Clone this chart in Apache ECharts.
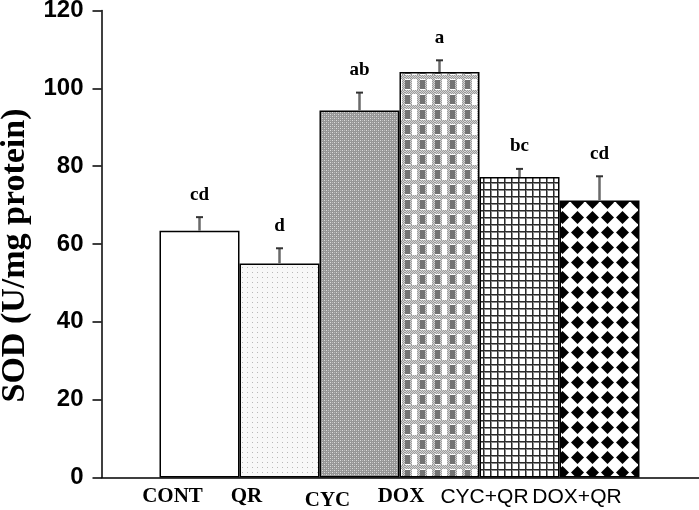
<!DOCTYPE html>
<html>
<head>
<meta charset="utf-8">
<script src="https://cdn.jsdelivr.net/npm/echarts@6/dist/echarts.min.js"></script>
<style>
html,body{margin:0;padding:0;background:#fff;}
#chart{width:699px;height:510px;}
</style>
</head>
<body>
<div id="chart"></div>
<script>
// ---- data ----
const categories = ['CONT', 'QR', 'CYC', 'DOX', 'CYC+QR', 'DOX+QR'];
const sodMeans = [63.4, 55.0, 94.3, 104.2, 77.2, 71.2];
const sodErrors = [3.5, 3.9, 4.6, 3.0, 2.1, 6.2];
const sigLetters = ['cd', 'd', 'ab', 'a', 'bc', 'cd'];
const yMin = 0, yMax = 120, yStep = 20;
const yTitle = 'SOD (U/mg protein)';

// ---- patterns ----
function tile(w, h, draw) {
  const c = document.createElement('canvas');
  c.width = w; c.height = h;
  const g = c.getContext('2d');
  draw(g);
  return { image: c, repeat: 'repeat' };
}
const patWhite = '#ffffff';
const patDots = tile(5, 5, g => {
  g.fillStyle = '#f8f8f8'; g.fillRect(0, 0, 5, 5);
  g.fillStyle = '#b8b8b8'; g.fillRect(2, 2, 1, 1);
});
const patFine = tile(4, 4, g => {
  g.fillStyle = '#969696'; g.fillRect(0, 0, 4, 4);
  g.fillStyle = '#dcdcdc'; g.fillRect(0, 0, 1, 1); g.fillRect(2, 2, 1, 1);
  g.fillStyle = '#b8b8b8'; g.fillRect(2, 0, 1, 1); g.fillRect(0, 2, 1, 1);
});
const patPlaid = tile(15, 15, g => {
  g.fillStyle = '#ffffff'; g.fillRect(0, 0, 15, 15);
  for (let y = 0; y < 15; y++) for (let x = 0; x < 15; x++) {
    const inBand = y < 4;
    const inCol = (x >= 5 && x <= 6) || (x >= 12 && x <= 14);
    if (inBand || inCol) {
      g.fillStyle = ((x + y) % 2 === 0) ? '#9a9a9a' : '#d4d4d4';
      g.fillRect(x, y, 1, 1);
    }
  }
  g.fillStyle = '#737373'; g.fillRect(0, 5, 5, 9);
});
const patGrid = tile(7, 7, g => {
  g.fillStyle = '#ffffff'; g.fillRect(0, 0, 7, 7);
  g.fillStyle = '#8a8a8a'; g.fillRect(1, 0, 1, 7); g.fillRect(0, 1, 7, 1);
  g.fillStyle = '#2a2a2a'; g.fillRect(0, 0, 1, 7); g.fillRect(0, 0, 7, 1);
});
const patDiamond = tile(15, 15, g => {
  g.fillStyle = '#ffffff'; g.fillRect(0, 0, 15, 15);
  g.fillStyle = '#000000';
  g.beginPath();
  g.moveTo(7.5, 1); g.lineTo(14, 7.5); g.lineTo(7.5, 14); g.lineTo(1, 7.5);
  g.closePath(); g.fill();
});
const barFills = [patWhite, patDots, patFine, patPlaid, patGrid, patDiamond];

// per-label text styling (font + small placement shifts as in the original)
const serifLbl = { fontFamily: 'Liberation Serif', fontWeight: 'bold', fontSize: 21, color: '#000' };
const sansLbl = { fontFamily: 'Liberation Sans', fontWeight: 'normal', fontSize: 21, color: '#000' };
const labelStyles = {
  s0: Object.assign({}, serifLbl, { padding: [0, 54, 0, 0] }),
  s1: Object.assign({}, serifLbl, { padding: [0, 66, 0, 0] }),
  s2: Object.assign({}, serifLbl, { padding: [4, 64, 0, 0] }),
  s3: Object.assign({}, serifLbl, { padding: [0, 77, 0, 0] }),
  s4: Object.assign({}, sansLbl, { padding: [0, 70, 0, 0] }),
  s5: Object.assign({}, sansLbl, { padding: [0, 45, 0, 0] })
};

const chart = echarts.init(document.getElementById('chart'), null, { renderer: 'canvas' });
const gridTop = 10.5, gridBottom = 32.5;

chart.setOption({
  animation: false,
  backgroundColor: '#ffffff',
  grid: [
    { left: 101.5, right: 0, top: gridTop, bottom: gridBottom, containLabel: false, outerBoundsMode: 'none' },
    { left: 159.5, right: 59.5, top: gridTop, bottom: gridBottom, containLabel: false, outerBoundsMode: 'none' }
  ],
  xAxis: [
    {
      gridIndex: 0, type: 'value', min: 0, max: 1,
      axisLine: { show: true, onZero: false, lineStyle: { color: '#000', width: 1.5 } },
      axisTick: { show: false }, axisLabel: { show: false }, splitLine: { show: false }
    },
    {
      gridIndex: 1, type: 'category', data: categories,
      axisLine: { show: false }, axisTick: { show: false }, splitLine: { show: false },
      axisLabel: {
        interval: 0, margin: 9,
        formatter: (v, i) => '{s' + i + '|' + v + '}',
        rich: labelStyles
      }
    }
  ],
  yAxis: [
    {
      gridIndex: 0, type: 'value', min: yMin, max: yMax, interval: yStep,
      axisLine: { show: true, onZero: false, lineStyle: { color: '#000', width: 1.5 } },
      axisTick: { show: true, inside: false, length: 9, lineStyle: { color: '#000', width: 1.5 } },
      splitLine: { show: false },
      axisLabel: { margin: 18, fontFamily: 'Liberation Sans', fontWeight: 'bold', fontSize: 24, color: '#000' },
      name: yTitle, nameLocation: 'middle', nameRotate: 90, nameGap: 59,
      nameTextStyle: { fontFamily: 'Liberation Serif', fontWeight: 'bold', fontSize: 34, color: '#000', padding: [0, 23, 0, 0] }
    },
    {
      gridIndex: 1, type: 'value', min: yMin, max: yMax, interval: yStep, show: false
    }
  ],
  series: [
    {
      type: 'bar', xAxisIndex: 1, yAxisIndex: 1,
      barWidth: '100%', barCategoryGap: '0%',
      data: sodMeans.map((v, i) => ({
        value: v,
        itemStyle: { color: barFills[i], borderColor: '#000', borderWidth: 1.5 }
      })),
      z: 2
    },
    {
      type: 'custom', xAxisIndex: 1, yAxisIndex: 1, z: 5,
      data: sodMeans.map((v, i) => [i, v, sodErrors[i]]),
      encode: { x: 0, y: 1 },
      renderItem: function (params, api) {
        const i = api.value(0), m = api.value(1), e = api.value(2);
        const base = api.coord([i, m]);
        const top = api.coord([i, m + e]);
        return {
          type: 'group',
          children: [
            { type: 'line', shape: { x1: base[0], y1: base[1], x2: top[0], y2: top[1] },
              style: { stroke: '#6a6a6a', lineWidth: 2.5 } },
            { type: 'line', shape: { x1: top[0] - 3.5, y1: top[1], x2: top[0] + 3.5, y2: top[1] },
              style: { stroke: '#333', lineWidth: 2 } },
            { type: 'text', x: top[0], y: top[1] - 13,
              style: { text: sigLetters[i], font: 'bold 19px "Liberation Serif"',
                       textAlign: 'center', textVerticalAlign: 'bottom', fill: '#000' } }
          ]
        };
      }
    }
  ]
});
</script>
</body>
</html>
